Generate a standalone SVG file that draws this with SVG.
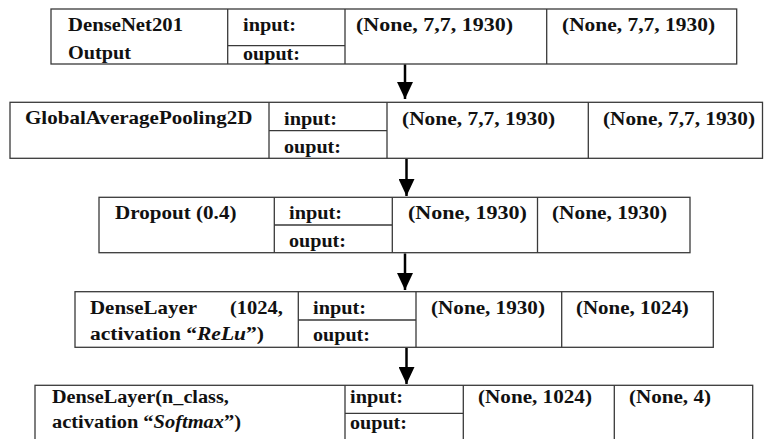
<svg xmlns="http://www.w3.org/2000/svg" width="765" height="439" viewBox="0 0 765 439">
<defs>
<marker id="ah" viewBox="0 0 17 16" refX="17" refY="8" markerWidth="17" markerHeight="16" markerUnits="userSpaceOnUse" orient="auto">
<path d="M0,0 L17,8 L0,16 z" fill="#000"/>
</marker>
</defs>
<rect width="765" height="439" fill="#fff"/>
<g id="n1">
<rect fill="#fff" stroke="#3a3a3a" stroke-width="1.3" x="51" y="9" width="685.7" height="55"/>
<path fill="none" stroke="#3a3a3a" stroke-width="1.3" d="M227.7,9V64M345,9V64M546.7,9V64M227.7,45.7H345"/>
<text font-family="Liberation Serif" font-weight="bold" font-size="18.5" fill="#111" transform="matrix(1.12,0,0,1,68,31)">DenseNet201</text>
<text font-family="Liberation Serif" font-weight="bold" font-size="18.5" fill="#111" transform="matrix(1.094,0,0,1,68,59)">Output</text>
<text font-family="Liberation Serif" font-weight="bold" font-size="18.5" fill="#111" transform="matrix(1.097,0,0,1,243,31)">input:</text>
<text font-family="Liberation Serif" font-weight="bold" font-size="18.5" fill="#111" transform="matrix(1.087,0,0,1,243,60)">ouput:</text>
<text font-family="Liberation Serif" font-weight="bold" font-size="18.5" fill="#111" transform="matrix(1.19,0,0,1,356,31)">(None, 7,7, 1930)</text>
<text font-family="Liberation Serif" font-weight="bold" font-size="18.5" fill="#111" transform="matrix(1.16,0,0,1,562,31)">(None, 7,7, 1930)</text>
</g>
<g id="n2">
<rect fill="#fff" stroke="#3a3a3a" stroke-width="1.3" x="10" y="102.3" width="752.5" height="56"/>
<path fill="none" stroke="#3a3a3a" stroke-width="1.3" d="M269,102.3V158.3M387,102.3V158.3M588.3,102.3V158.3M269,130.7H387"/>
<text font-family="Liberation Serif" font-weight="bold" font-size="18.5" fill="#111" transform="matrix(1.137,0,0,1,25,124)">GlobalAveragePooling2D</text>
<text font-family="Liberation Serif" font-weight="bold" font-size="18.5" fill="#111" transform="matrix(1.097,0,0,1,284,125)">input:</text>
<text font-family="Liberation Serif" font-weight="bold" font-size="18.5" fill="#111" transform="matrix(1.087,0,0,1,284,153)">ouput:</text>
<text font-family="Liberation Serif" font-weight="bold" font-size="18.5" fill="#111" transform="matrix(1.16,0,0,1,402,125)">(None, 7,7, 1930)</text>
<text font-family="Liberation Serif" font-weight="bold" font-size="18.5" fill="#111" transform="matrix(1.152,0,0,1,603,125)">(None, 7,7, 1930)</text>
</g>
<g id="n3">
<rect fill="#fff" stroke="#3a3a3a" stroke-width="1.3" x="99" y="197.3" width="591" height="55.4"/>
<path fill="none" stroke="#3a3a3a" stroke-width="1.3" d="M274.3,197.3V252.7M392.3,197.3V252.7M537.5,197.3V252.7M274.3,225H392.3"/>
<text font-family="Liberation Serif" font-weight="bold" font-size="18.5" fill="#111" transform="matrix(1.141,0,0,1,115,219)">Dropout (0.4)</text>
<text font-family="Liberation Serif" font-weight="bold" font-size="18.5" fill="#111" transform="matrix(1.097,0,0,1,289,219)">input:</text>
<text font-family="Liberation Serif" font-weight="bold" font-size="18.5" fill="#111" transform="matrix(1.087,0,0,1,289,247)">ouput:</text>
<text font-family="Liberation Serif" font-weight="bold" font-size="18.5" fill="#111" transform="matrix(1.194,0,0,1,408,219)">(None, 1930)</text>
<text font-family="Liberation Serif" font-weight="bold" font-size="18.5" fill="#111" transform="matrix(1.154,0,0,1,552,219)">(None, 1930)</text>
</g>
<g id="n4">
<rect fill="#fff" stroke="#3a3a3a" stroke-width="1.3" x="75" y="291.7" width="638.3" height="55.6"/>
<path fill="none" stroke="#3a3a3a" stroke-width="1.3" d="M298.3,291.7V347.3M416,291.7V347.3M561.7,291.7V347.3M298.3,320H416"/>
<text font-family="Liberation Serif" font-weight="bold" font-size="18.5" fill="#111" transform="matrix(1.132,0,0,1,90,314)">DenseLayer</text>
<text font-family="Liberation Serif" font-weight="bold" font-size="18.5" fill="#111" transform="matrix(1.109,0,0,1,230,314)">(1024,</text>
<text font-family="Liberation Serif" font-weight="bold" font-size="18.5" fill="#111" transform="matrix(1.164,0,0,1,90,340)">activation “<tspan font-style="italic">ReLu</tspan>”)</text>
<text font-family="Liberation Serif" font-weight="bold" font-size="18.5" fill="#111" transform="matrix(1.097,0,0,1,313,314)">input:</text>
<text font-family="Liberation Serif" font-weight="bold" font-size="18.5" fill="#111" transform="matrix(1.087,0,0,1,313,341)">ouput:</text>
<text font-family="Liberation Serif" font-weight="bold" font-size="18.5" fill="#111" transform="matrix(1.144,0,0,1,431,314)">(None, 1930)</text>
<text font-family="Liberation Serif" font-weight="bold" font-size="18.5" fill="#111" transform="matrix(1.133,0,0,1,576,314)">(None, 1024)</text>
</g>
<g id="n5">
<rect fill="#fff" stroke="#3a3a3a" stroke-width="1.3" x="35" y="385.3" width="717.7" height="70"/>
<path fill="none" stroke="#3a3a3a" stroke-width="1.3" d="M345,385.3V445M463.3,385.3V445M614.3,385.3V445M345,413.3H463.3"/>
<text font-family="Liberation Serif" font-weight="bold" font-size="18.5" fill="#111" transform="matrix(1.093,0,0,1,52,403)">DenseLayer(n_class,</text>
<text font-family="Liberation Serif" font-weight="bold" font-size="18.5" fill="#111" transform="matrix(1.105,0,0,1,52,428)">activation “<tspan font-style="italic">Softmax</tspan>”)</text>
<text font-family="Liberation Serif" font-weight="bold" font-size="18.5" fill="#111" transform="matrix(1.097,0,0,1,350,403)">input:</text>
<text font-family="Liberation Serif" font-weight="bold" font-size="18.5" fill="#111" transform="matrix(1.087,0,0,1,350,429)">ouput:</text>
<text font-family="Liberation Serif" font-weight="bold" font-size="18.5" fill="#111" transform="matrix(1.144,0,0,1,478,403)">(None, 1024)</text>
<text font-family="Liberation Serif" font-weight="bold" font-size="18.5" fill="#111" transform="matrix(1.14,0,0,1,629,403)">(None, 4)</text>
</g>
<g id="connectors" stroke="#000" stroke-width="2.5" fill="none">
<line x1="405" y1="64.5" x2="405" y2="99" marker-end="url(#ah)"/>
<line x1="406.5" y1="159" x2="406.5" y2="196" marker-end="url(#ah)"/>
<line x1="405" y1="253.5" x2="405" y2="290" marker-end="url(#ah)"/>
<line x1="406.5" y1="348" x2="406.5" y2="384" marker-end="url(#ah)"/>
</g>
</svg>
